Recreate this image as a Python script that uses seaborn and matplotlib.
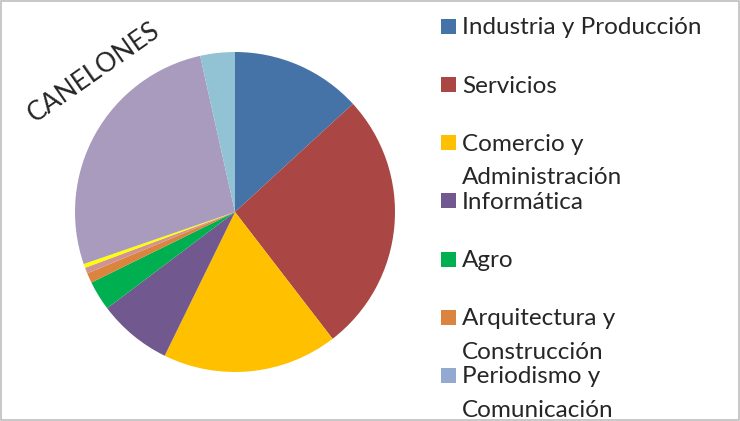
import seaborn as sns
import matplotlib.pyplot as plt
from matplotlib.patches import Rectangle

# datos (porcentaje de cada area)
categorias = ["Industria y Producción", "Servicios", "Comercio y\nAdministración",
              "Informática", "Agro", "Arquitectura y\nConstrucción",
              "Periodismo y\nComunicación", "Categoría 8", "Categoría 9",
              "Categoría 10", "Categoría 11"]
valores = [13.2, 26.4, 17.7, 7.5, 3.0, 1.0, 0.0, 0.6, 0.4, 26.8, 3.5]
colores = ["#4572A7", "#AA4643", "#FFC000", "#71588F", "#00B050", "#DB843D",
           "#93A9CF", "#D19392", "#FFFF00", "#A99BBD", "#91C3D5"]
n_leyenda = 7  # la leyenda original esta cortada

sns.set_style("white")
plt.rcParams['font.family'] = ['Lato', 'DejaVu Sans']

fig = plt.figure(figsize=(7.4, 4.21), dpi=100)
W, H = 740, 421

ax = fig.add_axes([75 / W, (H - 372) / H, 320 / W, 320 / H])
pal = sns.color_palette(colores)
ax.pie(valores, colors=pal, startangle=90, counterclock=False,
       wedgeprops=dict(linewidth=0))
ax.set_xlim(-1, 1)
ax.set_ylim(-1, 1)
ax.set_aspect('equal')
ax.axis('off')

fig.text(94 / W, 1 - 72 / H, "CANELONES", rotation=35, fontsize=19,
         ha='center', va='center')

# leyenda al estilo Excel
for i in range(n_leyenda):
    yc = 26.5 + i * 58.15
    fig.patches.append(Rectangle((441 / W, 1 - (yc + 7.5) / H), 15 / W, 15 / H,
                                 transform=fig.transFigure, color=pal[i], lw=0))
    for j, linea in enumerate(categorias[i].split("\n")):
        fig.text(462 / W, 1 - (yc + 8 + j * 33.5) / H, linea, fontsize=17.5,
                 ha='left', va='baseline')

fig.patches.append(Rectangle((0.001, 0.002), 0.997, 0.995, transform=fig.transFigure,
                             fill=False, edgecolor='#BFBFBF', lw=1.2))

fig.savefig("out.png", dpi=100)
